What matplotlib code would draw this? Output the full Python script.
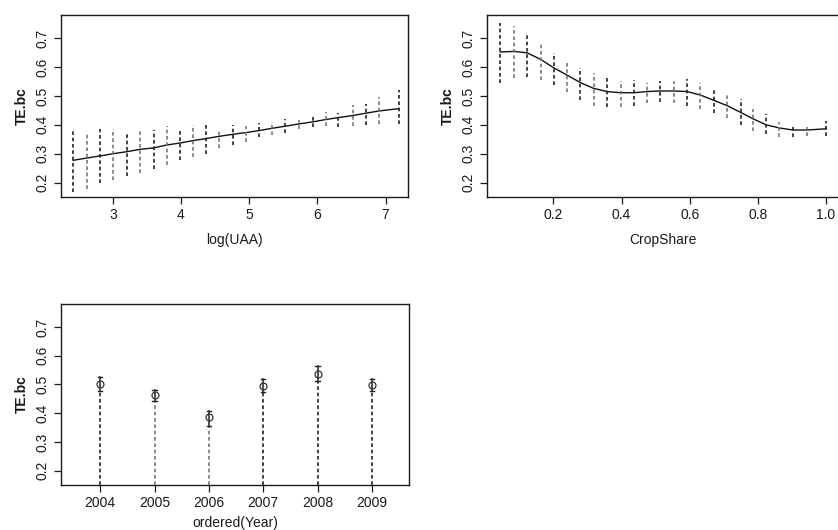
import matplotlib
matplotlib.use("Agg")
import matplotlib.pyplot as plt

plt.rcParams["font.family"] = ["Liberation Sans", "DejaVu Sans"]

# partial effect of log(UAA)
uaa_x = [2.42, 2.62, 2.81, 3.01, 3.21, 3.40, 3.60, 3.79, 3.99, 4.17, 4.36, 4.56, 4.76,
         4.95, 5.15, 5.34, 5.53, 5.73, 5.93, 6.12, 6.31, 6.52, 6.71, 6.91, 7.20]
uaa_fit = [0.277, 0.285, 0.292, 0.300, 0.307, 0.315, 0.320, 0.330, 0.337, 0.345, 0.352,
           0.360, 0.367, 0.373, 0.380, 0.388, 0.395, 0.403, 0.410, 0.418, 0.425, 0.432,
           0.440, 0.448, 0.456]
uaa_hi = [0.383, 0.375, 0.387, 0.387, 0.375, 0.387, 0.383, 0.395, 0.387, 0.398, 0.398,
          0.387, 0.400, 0.395, 0.406, 0.410, 0.421, 0.415, 0.427, 0.444, 0.440, 0.467,
          0.473, 0.496, 0.521]
uaa_lo = [0.168, 0.179, 0.197, 0.208, 0.222, 0.233, 0.248, 0.260, 0.277, 0.289, 0.300,
          0.318, 0.331, 0.340, 0.356, 0.364, 0.372, 0.387, 0.392, 0.395, 0.392, 0.395,
          0.398, 0.402, 0.404]

# partial effect of CropShare
crop_x = [0.044, 0.084, 0.123, 0.163, 0.201, 0.240, 0.279, 0.318, 0.357, 0.397, 0.436,
          0.475, 0.514, 0.553, 0.592, 0.631, 0.670, 0.710, 0.749, 0.787, 0.824, 0.863,
          0.902, 0.945, 1.000]
crop_fit = [0.652, 0.654, 0.649, 0.626, 0.597, 0.572, 0.546, 0.526, 0.515, 0.511, 0.511,
            0.515, 0.517, 0.517, 0.515, 0.503, 0.485, 0.466, 0.443, 0.420, 0.400, 0.389,
            0.382, 0.382, 0.386]
crop_hi = [0.751, 0.743, 0.717, 0.686, 0.649, 0.622, 0.597, 0.580, 0.569, 0.551, 0.554,
           0.546, 0.551, 0.551, 0.557, 0.546, 0.529, 0.511, 0.489, 0.454, 0.437, 0.409,
           0.391, 0.391, 0.412]
crop_lo = [0.546, 0.563, 0.565, 0.554, 0.538, 0.515, 0.485, 0.466, 0.460, 0.463, 0.466,
           0.477, 0.479, 0.477, 0.466, 0.454, 0.440, 0.423, 0.400, 0.380, 0.369, 0.357,
           0.357, 0.360, 0.360]

# partial effect of Year
years = ["2004", "2005", "2006", "2007", "2008", "2009"]
year_fit = [0.501, 0.464, 0.388, 0.495, 0.538, 0.499]
year_hi = [0.526, 0.481, 0.408, 0.518, 0.564, 0.518]
year_lo = [0.478, 0.444, 0.356, 0.473, 0.512, 0.478]

YLIM = (0.15, 0.78)
DASH = (0, (2.2, 1.6))


def style_axes(ax, xlabel):
    ax.set_ylim(*YLIM)
    ax.set_yticks([0.2, 0.3, 0.4, 0.5, 0.6, 0.7])
    ax.set_yticklabels(["0.2", "0.3", "0.4", "0.5", "0.6", "0.7"], rotation=90, va="center")
    ax.tick_params(direction="out", length=5, width=0.9, labelsize=10, colors="#1a1a1a", pad=3)
    for s in ax.spines.values():
        s.set_linewidth(1.0)
        s.set_color("#1a1a1a")
    ax.set_ylabel("TE.bc", fontsize=10, fontweight="bold", color="#1a1a1a", labelpad=5)
    ax.set_xlabel(xlabel, fontsize=10, color="#1a1a1a", labelpad=8)


def draw_smooth(ax, x, fit, lo, hi):
    ax.plot(x, fit, color="#111111", lw=1.0)
    for i, (xi, l, h) in enumerate(zip(x, lo, hi)):
        col = "#222222" if i % 2 == 0 else "#777777"
        ax.plot([xi, xi], [l, h], color=col, lw=1.2, linestyle=DASH)


fig = plt.figure(figsize=(8.38, 5.30), dpi=100)

ax1 = fig.add_axes([61 / 838, 333 / 530, 347 / 838, 182 / 530])
draw_smooth(ax1, uaa_x, uaa_fit, uaa_lo, uaa_hi)
ax1.set_xlim(2.24, 7.33)
ax1.set_xticks([3, 4, 5, 6, 7])
style_axes(ax1, "log(UAA)")

ax2 = fig.add_axes([487 / 838, 333 / 530, 352 / 838, 182 / 530])
draw_smooth(ax2, crop_x, crop_fit, crop_lo, crop_hi)
ax2.set_xlim(0.005, 1.038)
ax2.set_xticks([0.2, 0.4, 0.6, 0.8, 1.0])
ax2.set_xticklabels(["0.2", "0.4", "0.6", "0.8", "1.0"])
style_axes(ax2, "CropShare")

ax3 = fig.add_axes([61 / 838, 45 / 530, 348 / 838, 181 / 530])
pos = list(range(1, len(years) + 1))
for i, (p, f, l, h) in enumerate(zip(pos, year_fit, year_lo, year_hi)):
    col = "#777777" if i in (1, 2) else "#222222"
    ax3.plot([p, p], [YLIM[0], l], color=col, lw=1.2, linestyle=DASH)
    ax3.plot([p, p], [l, h], color="#222222", lw=1.1)
    ax3.plot([p - 0.04, p + 0.04], [h, h], color="#222222", lw=1.0)
    ax3.plot([p - 0.04, p + 0.04], [l, l], color="#222222", lw=1.0)
ax3.plot(pos, year_fit, linestyle="none", marker="o", ms=5, mfc="none",
         mec="#333333", mew=0.9)
ax3.set_xlim(0.28, 6.68)
ax3.set_xticks(pos)
ax3.set_xticklabels(years)
style_axes(ax3, "ordered(Year)")
ax3.xaxis.labelpad = 4

fig.savefig("out.png", dpi=100)
